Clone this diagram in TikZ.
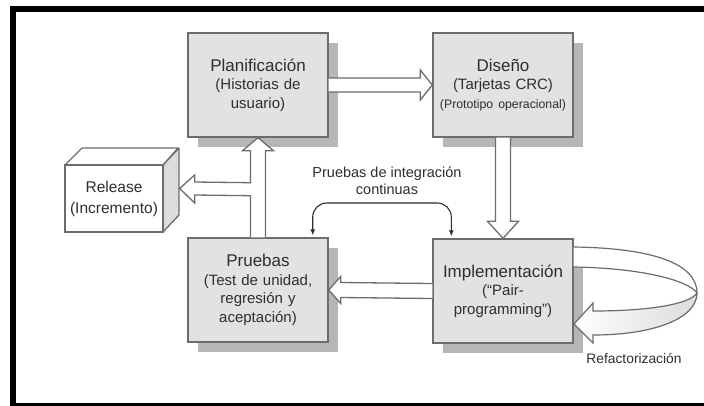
\documentclass[tikz,border=0pt]{standalone}
\usepackage{fontspec}
\setmainfont{Liberation Sans}
\usetikzlibrary{calc,shadows,arrows.meta}
\definecolor{ink}{HTML}{2E2E2E}
\definecolor{edge}{HTML}{6C6C6C}
\definecolor{boxfill}{HTML}{E2E2E2}
\definecolor{shade}{HTML}{B6B6B6}
\definecolor{sideface}{HTML}{DCDCDC}
\begin{document}
\begin{tikzpicture}[x=1pt,y=-1pt,
  phase/.style={draw=edge, line width=1.4pt, fill=boxfill,
    minimum width=140pt, minimum height=104pt, inner sep=0pt,
    text width=136pt, align=center, text=ink,
    font=\fontsize{15}{18.5}\selectfont,
    drop shadow={shadow xshift=10pt, shadow yshift=-10pt, fill=shade, opacity=1}},
  title/.style={font=\fontsize{17}{20}\selectfont},
  blockarrow/.style={draw=edge, line width=1.3pt, fill=white, line join=miter},
  conn/.style={draw=ink, line width=1.1pt, rounded corners=14pt,
    {Latex[length=6pt,width=5pt]}-{Latex[length=6pt,width=5pt]}},
  label/.style={text=ink, align=center, font=\fontsize{14.5}{17}\selectfont}]

\useasboundingbox (0,0) rectangle (704,405);

% frame
\fill[black] (10,6) rectangle (720,420);
\fill[white] (16,12) rectangle (720,403);

% phases
\node[phase] (plan) at (258,85)
  {{\fontsize{17}{20}\selectfont Planificación}\\(Historias de\\usuario)};
\node[phase] (dis) at (503,85)
  {{\fontsize{17}{20}\selectfont Diseño}\\(Tarjetas CRC)\\{\fontsize{12.3}{14}\selectfont (Prototipo operacional)}};
\node[phase] (pru) at (258,290)
  {{\fontsize{17}{20}\selectfont Pruebas}\\(Test de unidad,\\regresión y\\aceptación)};
\node[phase] (imp) at (503,291)
  {{\fontsize{17}{20}\selectfont Implementación}\\(“Pair-\\programming”)};

% release box drawn as a block
\coordinate (rfl) at (65,165);
\coordinate (rfr) at (163,165);
\coordinate (rbr) at (163,232);
\coordinate (rbl) at (65,232);
\draw[draw=edge, line width=1.3pt, fill=sideface, line join=round]
  (rfr) -- ++(16,-17) -- ++(0,67) -- (rbr) -- cycle;
\draw[draw=edge, line width=1.3pt, fill=white, line join=round]
  (rfl) -- ++(17,-17) -- ++(96,0) -- (rfr) -- cycle;
\node[draw=edge, line width=1.3pt, fill=white, minimum width=98pt, minimum height=67pt,
  inner sep=0pt, align=center, text=ink, font=\fontsize{15.5}{21}\selectfont]
  (rel) at (114,198.5) {Release\\(Incremento)};

% Planificación -> Diseño
\draw[blockarrow] (plan.east) ++(0,-7) -- ($(dis.west)+(-12,-7)$) -- ++(0,-8)
  -- (dis.west) -- ($(dis.west)+(-12,15)$) -- ++(0,-8) -- ($(plan.east)+(0,7)$);
% Diseño -> Implementación
\draw[blockarrow] ($(dis.south)+(-7.5,0)$) -- ($(imp.north)+(-7.5,-17)$) -- ++(-8,0)
  -- (imp.north) -- ($(imp.north)+(15.5,-17)$) -- ++(-8,0) -- ($(dis.south)+(7.5,0)$);
% Implementación -> Pruebas
\draw[blockarrow] ($(imp.west)+(0,-7.5)$) -- ($(pru.east)+(12,-7.5)$) -- ++(0,-6)
  -- (pru.east) -- ($(pru.east)+(12,13.5)$) -- ++(0,-6) -- ($(imp.west)+(0,7.5)$);
% Pruebas -> Planificación, with the branch to Release
\draw[blockarrow] ($(pru.north)+(7.5,0)$) -- ($(plan.south)+(7.5,13)$) -- ++(8,0)
  -- (plan.south) -- ($(plan.south)+(-15.5,13)$) -- ++(8,0)
  -- ($(plan.south)+(-7.5,45)$) -- ($(rel.east)+(31,-16.5)$) -- ++(0,-7)
  -- ($(rel.east)+(16,-10)$) -- ($(rel.east)+(31,4.5)$) -- ++(0,-8)
  -- ($(plan.south)+(-7.5,58)$) -- ($(pru.north)+(-7.5,0)$);

% refactoring loop on Implementación
\coordinate (loopR) at (697,293);
\draw[draw=edge, line width=1.2pt, left color=white, right color=sideface, line join=miter]
  (loopR) .. controls (690,304) and (650,311) .. (593,311) -- (593,303)
  -- (574,324) -- (593,343) -- (593,335)
  .. controls (655,335) and (697,318) .. (loopR);
\draw[draw=edge, line width=1.2pt, fill=white]
  (imp.east |- 0,247) .. controls (648,248) and (697,262) .. (loopR)
  .. controls (688,280) and (640,268) .. (imp.east |- 0,267);

% continuous integration connector
\coordinate (ciTop) at (380,203);
\draw[conn] ($(pru.north east)+(-16,-2)$) |- (ciTop) -| ($(imp.north west)+(19,-2)$);
\node[label] (ci) at (387,181) {Pruebas de integración\\continuas};

\node[label, font=\fontsize{13.8}{16}\selectfont] (refac) at (634,358) {Refactorización};
\end{tikzpicture}
\end{document}
